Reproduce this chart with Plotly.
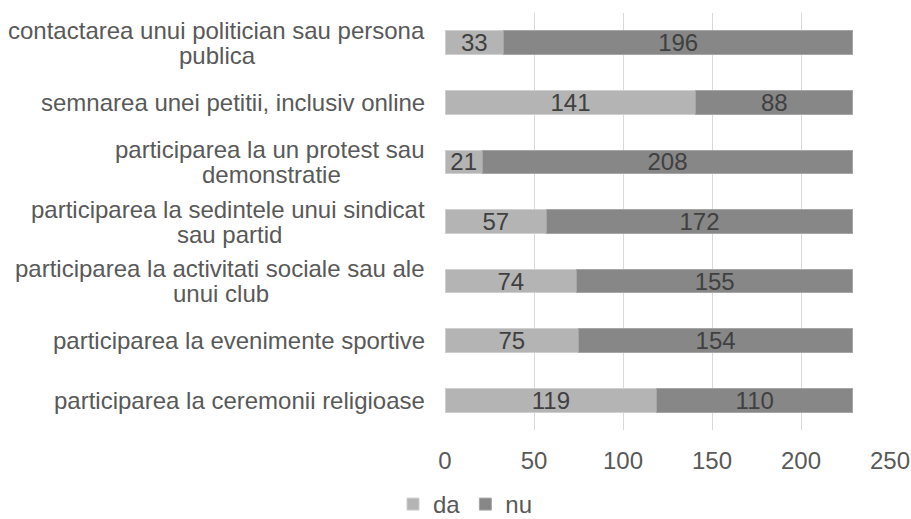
import plotly.graph_objects as go

categories = [
    "contactarea unui politician sau persona publica",
    "semnarea unei petitii, inclusiv online",
    "participarea la un protest sau demonstratie",
    "participarea la sedintele unui sindicat sau partid",
    "participarea la activitati sociale sau ale unui club",
    "participarea la evenimente sportive",
    "participarea la ceremonii religioase",
]
# how each category label wraps (as displayed)
label_lines = [
    ["contactarea unui politician sau persona", "publica"],
    ["semnarea unei petitii, inclusiv online"],
    ["participarea la un protest sau", "demonstratie"],
    ["participarea la sedintele unui sindicat", "sau partid"],
    ["participarea la activitati sociale sau ale", "unui club"],
    ["participarea la evenimente sportive"],
    ["participarea la ceremonii religioase"],
]
da_values = [33, 141, 21, 57, 74, 75, 119]
nu_values = [196, 88, 208, 172, 155, 154, 110]
x_ticks = [0, 50, 100, 150, 200, 250]

FONT = "Liberation Sans, Arial, sans-serif"
FS = 24
TXT = "#595959"

# Arial / Liberation Sans advance widths (per 1000 em) for centring wrapped lines
ADV = {"a": 556, "b": 556, "c": 500, "d": 556, "e": 556, "i": 222, "l": 222,
       "m": 833, "n": 556, "o": 556, "p": 556, "r": 333, "s": 500, "t": 278,
       "u": 556, "v": 500, " ": 278, ",": 278}


def text_width(s):
    return sum(ADV.get(ch, 556) for ch in s) * FS / 1000.0


fig = go.Figure()
fig.add_trace(go.Bar(
    name="da", y=categories, x=da_values, orientation="h",
    marker=dict(color="#b4b4b4", line=dict(color="#cfcfcf", width=1)),
    text=da_values, textposition="inside", insidetextanchor="middle",
    constraintext="none", textangle=0,
    textfont=dict(family=FONT, size=FS, color="#404040"),
))
fig.add_trace(go.Bar(
    name="nu", y=categories, x=nu_values, orientation="h",
    marker=dict(color="#878787", line=dict(color="#a6a6a6", width=1)),
    text=nu_values, textposition="inside", insidetextanchor="middle",
    constraintext="none", textangle=0,
    textfont=dict(family=FONT, size=FS, color="#404040"),
))

XS = -18
LINE = 25
for cat, lines in zip(categories, label_lines):
    if len(lines) == 1:
        fig.add_annotation(
            x=0, xref="paper", y=cat, yref="y", text=lines[0], showarrow=False,
            xanchor="right", yanchor="middle", xshift=XS,
            font=dict(family=FONT, size=FS, color=TXT),
        )
    else:
        w1 = text_width(lines[0])
        fig.add_annotation(
            x=0, xref="paper", y=cat, yref="y", text=lines[0], showarrow=False,
            xanchor="right", yanchor="middle", xshift=XS, yshift=LINE / 2,
            font=dict(family=FONT, size=FS, color=TXT),
        )
        fig.add_annotation(
            x=0, xref="paper", y=cat, yref="y", text=lines[1], showarrow=False,
            xanchor="center", yanchor="middle", xshift=XS - 1 - w1 / 2, yshift=-LINE / 2,
            font=dict(family=FONT, size=FS, color=TXT),
        )

fig.update_layout(
    width=911, height=519,
    barmode="stack", bargap=0.6,
    plot_bgcolor="white", paper_bgcolor="white",
    margin=dict(l=445, r=21, t=13, b=89, autoexpand=False),
    font=dict(family=FONT, size=FS, color=TXT),
    showlegend=True,
    legend=dict(orientation="h", xref="container", yref="container",
                x=0.511, xanchor="center", y=0.028, yanchor="middle",
                font=dict(family=FONT, size=FS, color=TXT), itemwidth=30,
                traceorder="normal", tracegroupgap=0,
                bgcolor="rgba(0,0,0,0)"),
    xaxis=dict(range=[0, 250], tickvals=x_ticks, showgrid=True, gridcolor="#d9d9d9",
               gridwidth=1, zeroline=False, showline=False, ticks="", automargin=False,
               ticklabelstandoff=14, tickfont=dict(family=FONT, size=FS, color=TXT)),
    yaxis=dict(categoryorder="array", categoryarray=categories, autorange="reversed",
               showticklabels=False, showgrid=False, zeroline=False, showline=False,
               ticks="", automargin=False),
)

fig.write_html(
    "out.html",
    config={"displayModeBar": False},
    post_script="document.body.style.margin='0';document.body.style.overflow='hidden';",
)
